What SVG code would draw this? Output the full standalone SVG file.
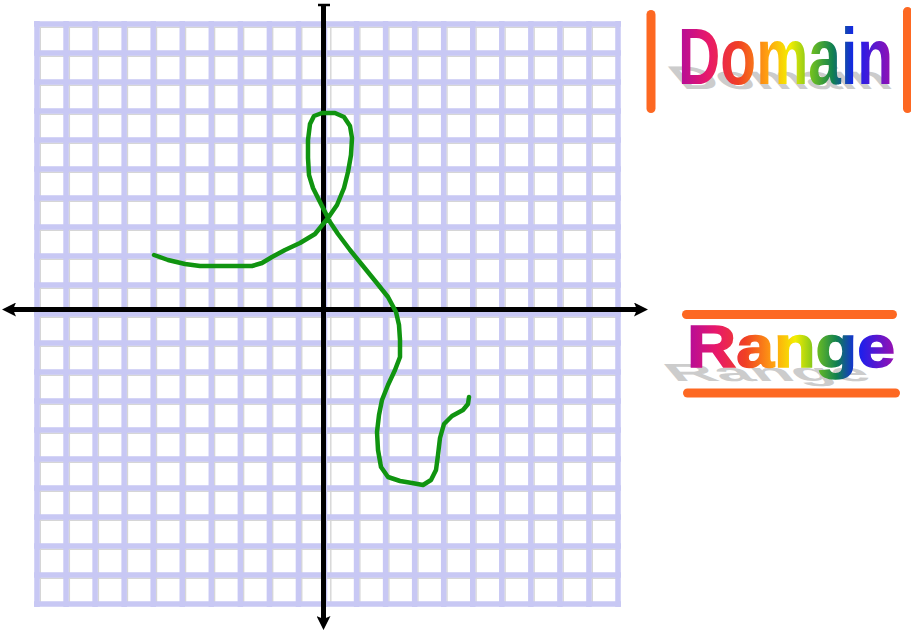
<svg xmlns="http://www.w3.org/2000/svg" width="911" height="632" viewBox="0 0 911 632">
<style>
.shade{fill:none;stroke:#d6d6d6;stroke-width:1.4}
.grid{fill:none;stroke:#c8c8f4;stroke-width:5.5}
.axis{fill:none;stroke:#000;stroke-width:5}
.bar{stroke:#fd6822;stroke-width:9;stroke-linecap:round}
.title{font-family:"Liberation Sans",Arial,sans-serif;font-weight:bold}
.shadow{fill:#cccccc}
.curve{fill:none;stroke:#109410;stroke-width:4.5;stroke-linejoin:round;stroke-linecap:round}
</style>
<defs>
<marker id="arr" viewBox="0 0 14 14" refX="3" refY="7" markerWidth="14" markerHeight="14" markerUnits="userSpaceOnUse" orient="auto-start-reverse">
<path d="M0,0 L14,7 L0,14 L3,7 Z" fill="#000"/>
</marker>
<linearGradient id="gD" gradientUnits="userSpaceOnUse" x1="678" y1="0" x2="893" y2="0">
<stop offset="0" stop-color="#b20c9c"/>
<stop offset="0.14" stop-color="#e8186a"/>
<stop offset="0.28" stop-color="#f04024"/>
<stop offset="0.42" stop-color="#ffa410"/>
<stop offset="0.52" stop-color="#f4ee00"/>
<stop offset="0.62" stop-color="#70c020"/>
<stop offset="0.72" stop-color="#108050"/>
<stop offset="0.82" stop-color="#1420f0"/>
<stop offset="1" stop-color="#9a10b0"/>
</linearGradient>
<linearGradient id="gR" gradientUnits="userSpaceOnUse" x1="687" y1="0" x2="895" y2="0">
<stop offset="0" stop-color="#b20c9c"/>
<stop offset="0.14" stop-color="#e8186a"/>
<stop offset="0.28" stop-color="#f04024"/>
<stop offset="0.42" stop-color="#ffa410"/>
<stop offset="0.52" stop-color="#f4ee00"/>
<stop offset="0.62" stop-color="#70c020"/>
<stop offset="0.72" stop-color="#108050"/>
<stop offset="0.82" stop-color="#1420f0"/>
<stop offset="1" stop-color="#9a10b0"/>
</linearGradient>
</defs>

<g id="grid">
<path class="shade" d="M40.3 27V604 M69.35 27V604 M98.4 27V604 M127.45 27V604 M156.5 27V604 M185.55 27V604 M214.6 27V604 M243.65 27V604 M272.7 27V604 M301.75 27V604 M330.8 27V604 M359.85 27V604 M388.9 27V604 M417.95 27V604 M447 27V604 M476.05 27V604 M505.1 27V604 M534.15 27V604 M563.2 27V604 M592.25 27V604"/>
<path class="shade" d="M37 27.3H618 M37 56.3H618 M37 85.3H618 M37 114.3H618 M37 143.3H618 M37 172.3H618 M37 201.3H618 M37 230.3H618 M37 259.3H618 M37 288.3H618 M37 317.3H618 M37 346.3H618 M37 375.3H618 M37 404.3H618 M37 433.3H618 M37 462.3H618 M37 491.3H618 M37 520.3H618 M37 549.3H618 M37 578.3H618"/>
<path class="grid" d="M37 21V607 M66.05 21V607 M95.1 21V607 M124.15 21V607 M153.2 21V607 M182.25 21V607 M211.3 21V607 M240.35 21V607 M269.4 21V607 M298.45 21V607 M324.5 21V607 M356.55 21V607 M385.6 21V607 M414.65 21V607 M443.7 21V607 M472.75 21V607 M501.8 21V607 M530.85 21V607 M559.9 21V607 M588.95 21V607 M618 21V607"/>
<path class="grid" d="M34 24H621 M34 53H621 M34 82H621 M34 111H621 M34 140H621 M34 169H621 M34 198H621 M34 227H621 M34 256H621 M34 285H621 M34 314H621 M34 343H621 M34 372H621 M34 401H621 M34 430H621 M34 459H621 M34 488H621 M34 517H621 M34 546H621 M34 575H621 M34 604H621"/>
</g>

<g id="connectors">
<path class="axis" d="M323.5 5V619" marker-end="url(#arr)"/>
<path d="M318 5H330" stroke="#000" stroke-width="2.5"/>
<path class="axis" d="M13 309.5H637" marker-start="url(#arr)" marker-end="url(#arr)"/>
</g>

<g id="curve">
<polyline class="curve" points="154,255 168,260 185,264 200,266 230,266 252,266 262,263 272,257 285,250 300,243 315,234 328,218 337,205 344,188 348,172 351,155 352,138 350,126 344,117 335,113 322,113 314,116 310,124 308,140 308,158 309,175 313,188 319,200 324,210 330,222 338,234 350,250 363,266 376,282 388,297 396,312 399,325 400,340 400,357 395,370 388,385 382,400 379,415 377,432 378,450 381,467 388,477 400,481 412,483 423,485 431,480 436,470 438,455 440,438 444,424 452,416 463,410 468,404 469,397"/>
</g>

<g id="domain">
<line class="bar" x1="651" y1="14.5" x2="651" y2="108.5"/>
<line class="bar" x1="907.5" y1="11.5" x2="907.5" y2="108.5"/>
<text class="title shadow" x="0" y="0" font-size="78" textLength="212" lengthAdjust="spacingAndGlyphs" transform="translate(683,89) skewX(40) scale(1,0.42)">Domain</text>
<text class="title" x="678" y="84" font-size="80" textLength="215" lengthAdjust="spacingAndGlyphs" fill="url(#gD)">Domain</text>
</g>

<g id="range">
<line class="bar" x1="686.5" y1="314.5" x2="892.5" y2="314.5"/>
<line class="bar" x1="687.5" y1="393" x2="895.5" y2="393"/>
<text class="title shadow" x="0" y="0" font-size="59" textLength="200" lengthAdjust="spacingAndGlyphs" transform="translate(674,381) skewX(40) scale(1,0.42)">Range</text>
<text class="title" x="687" y="367" font-size="59" textLength="208" lengthAdjust="spacingAndGlyphs" fill="url(#gR)" stroke="url(#gR)" stroke-width="1.5">Range</text>
</g>
</svg>
